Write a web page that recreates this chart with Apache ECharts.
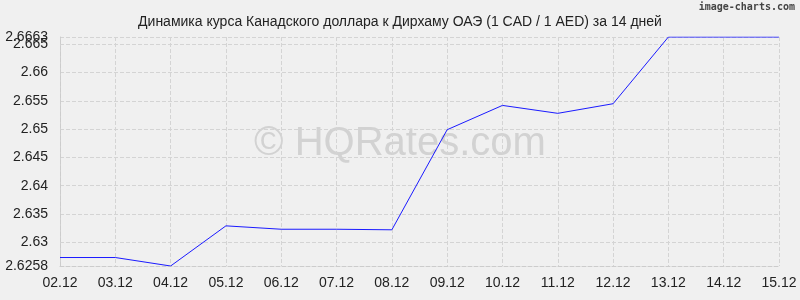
<!DOCTYPE html>
<html><head><meta charset="utf-8">
<script src="https://cdn.jsdelivr.net/npm/echarts@6/dist/echarts.min.js"></script>
<style>html,body{margin:0;padding:0;background:#f0f0f0}#c{width:800px;height:300px}</style>
</head><body><div id="c"></div>
<script>
const categories = ["02.12","03.12","04.12","05.12","06.12","07.12","08.12","09.12","10.12","11.12","12.12","13.12","14.12","15.12"];
const rates = [2.6273,2.6273,2.6258,2.6329,2.6323,2.6323,2.6322,2.6499,2.6542,2.6528,2.6545,2.6663,2.6663,2.6663];
const yTicks = [2.6258,2.63,2.635,2.64,2.645,2.65,2.655,2.66,2.665,2.6663];
const yMin = 2.6258, yMax = 2.6663;
const titleText = "Динамика курса Канадского доллара к Дирхаму ОАЭ (1 CAD / 1 AED) за 14 дней";

const labelStyle = {color:'#222',fontSize:14,fontFamily:'Liberation Sans, Arial',margin:12,hideOverlap:false};
const chart = echarts.init(document.getElementById('c'), null, {renderer:'canvas'});
chart.setOption({
  backgroundColor:'#f0f0f0',
  animation:false,
  title:{text:titleText,left:'center',top:10,textStyle:{fontFamily:'Liberation Sans, Arial',fontSize:14,fontWeight:'normal',color:'#222'}},
  graphic:[
    {type:'text',left:'center',top:124,style:{text:'© HQRates.com',font:'40px Liberation Sans, Arial',fill:'#d2d2d2'},z:-1},
    {type:'text',right:5,top:2,style:{text:'image-charts.com',font:'bold 10px DejaVu Sans Mono, monospace',fill:'#444'}}
  ],
  grid:{left:60,right:21,top:37,bottom:34},
  xAxis:{type:'category',data:categories,boundaryGap:false,
    axisLine:{lineStyle:{color:'#ccc',type:'dashed'}},
    axisTick:{show:false},
    splitLine:{show:true,lineStyle:{color:'#d4d4d4',type:'dashed'}},
    axisLabel:{color:'#222',fontSize:14,fontFamily:'Liberation Sans, Arial',margin:10}},
  yAxis:[
    {type:'value',min:yMin,max:yMax,position:'left',
    axisLine:{show:true,lineStyle:{color:'#ccc',type:'dashed'}},
    axisTick:{show:false,customValues:yTicks},
    splitLine:{show:true,lineStyle:{color:'#d4d4d4',type:'dashed'}},
    axisLabel:Object.assign({customValues:yTicks,showMaxLabel:false},labelStyle)},
    {type:'value',min:yMin,max:yMax,position:'left',offset:0,
    axisLine:{show:false},axisTick:{show:false,customValues:[yMax]},splitLine:{show:false},
    axisLabel:Object.assign({customValues:[yMax],showMaxLabel:true},labelStyle)}
  ],
  series:[{type:'line',data:rates,symbol:'none',lineStyle:{color:'#1a1aff',width:1}}]
});
</script></body></html>
